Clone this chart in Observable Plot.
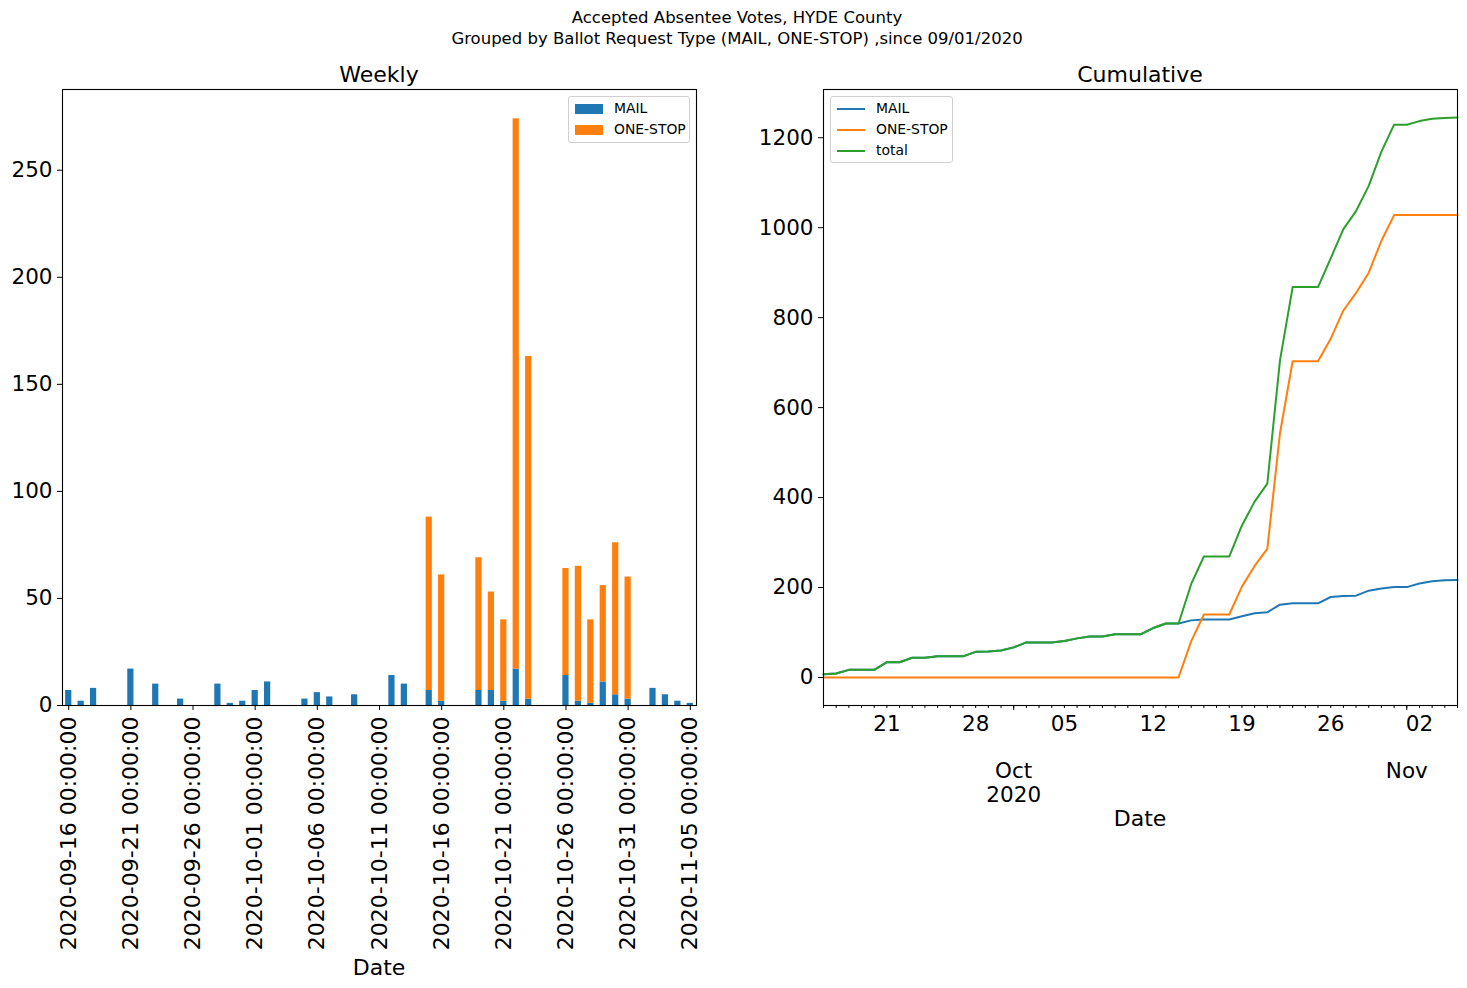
<!DOCTYPE html>
<html><head><meta charset="utf-8">
<script src="https://cdn.jsdelivr.net/npm/d3@7"></script>
<script src="https://cdn.jsdelivr.net/npm/@observablehq/plot@0.6"></script>
<style>
body{margin:0;background:#fff;}
#wrap{position:relative;width:1467px;height:988px;font-family:"DejaVu Sans",sans-serif;color:#000;overflow:hidden;background:#fff}
.t{position:absolute;white-space:nowrap;transform:translate(-50%,-50%);line-height:1;text-align:center}
.plot{position:absolute;top:0}
.legend{position:absolute;background:#fff;border:1px solid #d0d0d0;border-radius:3px;box-sizing:border-box;font-size:13.9px}
.leg-item{position:absolute;white-space:nowrap;line-height:1}
</style></head><body><div id="wrap"></div>
<script>
// ---- data ----
const dates = [
 "2020-09-16","2020-09-17","2020-09-18","2020-09-19","2020-09-20","2020-09-21","2020-09-22","2020-09-23","2020-09-24","2020-09-25",
 "2020-09-26","2020-09-27","2020-09-28","2020-09-29","2020-09-30","2020-10-01","2020-10-02","2020-10-03","2020-10-04","2020-10-05",
 "2020-10-06","2020-10-07","2020-10-08","2020-10-09","2020-10-10","2020-10-11","2020-10-12","2020-10-13","2020-10-14","2020-10-15",
 "2020-10-16","2020-10-17","2020-10-18","2020-10-19","2020-10-20","2020-10-21","2020-10-22","2020-10-23","2020-10-24","2020-10-25",
 "2020-10-26","2020-10-27","2020-10-28","2020-10-29","2020-10-30","2020-10-31","2020-11-01","2020-11-02","2020-11-03","2020-11-04",
 "2020-11-05"];
const mail = [7,2,8,0,0,17,0,10,0,3, 0,0,10,1,2,7,11,0,0,3, 6,4,0,5,0,0,14,10,0,7, 2,0,0,7,7,2,17,3,0,0, 14,2,1,11,5,3,0,8,5,2, 1];
const oneStop = [0,0,0,0,0,0,0,0,0,0, 0,0,0,0,0,0,0,0,0,0, 0,0,0,0,0,0,0,0,0,81, 59,0,0,62,46,38,257,160,0,0, 50,63,39,45,71,57,0,0,0,0, 0];
const barTypes = ["MAIL","ONE-STOP"];
const lineSeries = ["MAIL","ONE-STOP","total"];
const colors = ["#1f77b4","#ff7f0e","#2ca02c"];
const weeklyXTicks = ["2020-09-16","2020-09-21","2020-09-26","2020-10-01","2020-10-06","2020-10-11","2020-10-16","2020-10-21","2020-10-26","2020-10-31","2020-11-05"];
const weeklyYTicks = [0,50,100,150,200,250];
const cumYTicks = [0,200,400,600,800,1000,1200];
const cumWeekTicks = ["2020-09-21","2020-09-28","2020-10-05","2020-10-12","2020-10-19","2020-10-26","2020-11-02"];
const cumMonthTicks = ["2020-10-01","2020-11-01"];
const cumMonthLabels = ["Oct\n2020","Nov"];

// ---- tables ----
const barRows = dates.flatMap((d,i)=>[
  {date:d, type:"MAIL", value:mail[i]},
  {date:d, type:"ONE-STOP", value:oneStop[i]}]);
const lineRows = lineSeries.flatMap(s => dates.map((d,i)=>({
  date:new Date(d), series:s,
  value: s==="MAIL" ? mail[i] : s==="ONE-STOP" ? oneStop[i] : mail[i]+oneStop[i]})));
const maxBar = d3.max(dates, (d,i)=>mail[i]+oneStop[i]);
const totalCum = d3.sum(mail)+d3.sum(oneStop);

const baseStyle = {fontFamily:"DejaVu Sans", fontSize:"21.5px", color:"#000", background:"transparent", overflow:"visible"};

const left = Plot.plot({
  width:720, height:988, marginLeft:62, marginRight:24, marginTop:89, marginBottom:283,
  style: baseStyle,
  x:{type:"band", domain:dates, paddingInner:0.5, paddingOuter:0.25, round:false, axis:null},
  y:{domain:[0, maxBar*1.05], axis:null},
  color:{domain:barTypes, range:colors.slice(0,2)},
  marks:[
    Plot.barY(barRows, {x:"date", y:"value", fill:"type", order:barTypes}),
    Plot.axisY({ticks:weeklyYTicks, tickSize:5, tickPadding:5, tickFormat:d=>String(d), label:null}),
    Plot.axisX({ticks:weeklyXTicks, tickSize:5, tickPadding:6, tickRotate:-90, fontSize:22, tickFormat:d=>d+" 00:00:00", label:null}),
    Plot.frame({stroke:"#000", strokeWidth:1.1})
  ]
});
left.classList.add("plot"); left.style.left="0px";

const right = Plot.plot({
  width:727, height:988, marginLeft:83, marginRight:10, marginTop:89, marginBottom:283,
  style: baseStyle,
  x:{type:"utc", domain:[new Date(dates[0]), new Date(dates[dates.length-1])], axis:null},
  y:{domain:[-totalCum*0.05, totalCum*1.05], axis:null},
  color:{domain:lineSeries, range:colors},
  marks:[
    Plot.line(lineRows, Plot.mapY("cumsum", {x:"date", y:"value", stroke:"series", z:"series", strokeWidth:2})),
    Plot.axisY({ticks:cumYTicks, tickSize:5, tickPadding:5, tickFormat:d=>String(d), label:null}),
    Plot.axisX({ticks:dates.map(d=>new Date(d)), tickSize:3, tickFormat:()=>"", label:null}),
    Plot.axisX({ticks:cumWeekTicks.map(d=>new Date(d)), tickSize:0, tickPadding:10, tickFormat:"%d", label:null}),
    Plot.axisX({ticks:cumMonthTicks.map(d=>new Date(d)), tickSize:5, tickFormat:()=>"", label:null}),
    Plot.text(cumMonthTicks, {x:d=>new Date(d), text:(d,i)=>cumMonthLabels[i], frameAnchor:"bottom", lineAnchor:"top", dy:56, lineHeight:1.1, fill:"#000"}),
    Plot.frame({stroke:"#000", strokeWidth:1.1})
  ]
});
right.classList.add("plot"); right.style.left="740px";

const wrap = document.getElementById("wrap");
wrap.appendChild(left);
wrap.appendChild(right);

function txt(s, x, y, size){
  const d=document.createElement("div"); d.className="t"; d.textContent=s;
  d.style.left=x+"px"; d.style.top=y+"px"; d.style.fontSize=size+"px";
  wrap.appendChild(d);
}
txt("Accepted Absentee Votes, HYDE County", 737, 18, 16.5);
txt("Grouped by Ballot Request Type (MAIL, ONE-STOP) ,since 09/01/2020", 737, 39, 16.5);
txt("Weekly", 379, 75, 22);
txt("Cumulative", 1140, 75, 22);
txt("Date", 379, 968, 22);
txt("Date", 1140, 819, 22);

// legends
function legend(x, y, w, h, items, kind){
  const L=document.createElement("div"); L.className="legend";
  L.style.left=x+"px"; L.style.top=y+"px"; L.style.width=w+"px"; L.style.height=h+"px";
  items.forEach((it,i)=>{
    const cy = 12 + i*20.8;
    const sw=document.createElement("div");
    sw.style.position="absolute"; sw.style.left="6px"; sw.style.width="28px"; sw.style.background=it.color;
    if(kind==="patch"){ sw.style.top=(cy-5)+"px"; sw.style.height="10px"; }
    else { sw.style.top=(cy-1)+"px"; sw.style.height="2px"; }
    L.appendChild(sw);
    const t=document.createElement("div"); t.className="leg-item"; t.textContent=it.label;
    t.style.left="45px"; t.style.top=(cy-7)+"px";
    L.appendChild(t);
  });
  wrap.appendChild(L);
}
legend(568, 96, 122, 47, barTypes.map((s,i)=>({label:s, color:colors[i]})), "patch");
legend(830, 96, 123, 67, lineSeries.map((s,i)=>({label:s, color:colors[i]})), "line");
</script></body></html>
